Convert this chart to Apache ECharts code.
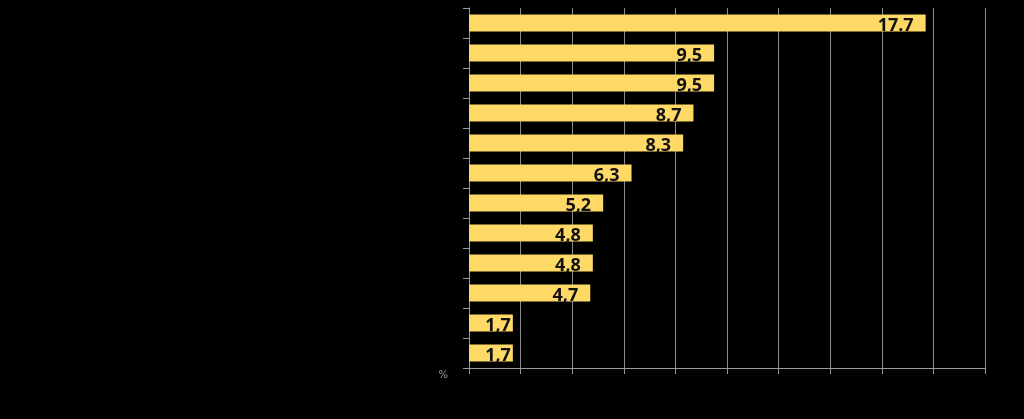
<!DOCTYPE html>
<html>
<head>
<meta charset="utf-8">
<script src="https://cdn.jsdelivr.net/npm/echarts@6/dist/echarts.min.js"></script>
<style>
  html, body { margin: 0; padding: 0; background: #000; }
  #chart { width: 1024px; height: 419px; }
</style>
</head>
<body>
<div id="chart"></div>
<script>
// categories (their labels are black on black in the original)
var categories = ['1', '2', '3', '4', '5', '6', '7', '8', '9', '10', '11', '12'];
var values = [17.7, 9.5, 9.5, 8.7, 8.3, 6.3, 5.2, 4.8, 4.8, 4.7, 1.7, 1.7];
var valueLabels = ['17.7', '9,5', '9,5', '8,7', '8,3', '6,3', '5,2', '4,8', '4,8', '4,7', '1,7', '1,7'];
var xTicks = ['0', '2', '4', '6', '8', '10', '12', '14', '16', '18', '20'];

var chart = echarts.init(document.getElementById('chart'));

// short bars: label is pushed to the bar end, like in the original
var barData = values.map(function (v) {
  return v < 3 ? { value: v, label: { distance: 2 } } : v;
});

var option = {
  backgroundColor: '#000',
  animation: false,
  grid: {
    left: 469,
    right: 39,
    top: 8,
    bottom: 51,
    containLabel: false
  },
  xAxis: {
    type: 'value',
    min: 0,
    max: 20,
    interval: 2,
    name: '%',
    nameLocation: 'start',
    nameGap: 21,
    nameTextStyle: {
      color: '#9a9a9a',
      fontSize: 10,
      fontFamily: 'DejaVu Sans',
      verticalAlign: 'top',
      padding: [2, 0, 0, 0]
    },
    axisLine: { show: true, lineStyle: { color: '#9a9a9a', width: 1 } },
    axisTick: { show: true, length: 6, lineStyle: { color: '#9a9a9a' } },
    axisLabel: {
      color: '#000',
      fontSize: 9,
      formatter: function (v) { return xTicks[Math.round(v / 2)]; }
    },
    splitLine: { show: true, lineStyle: { color: '#8c8c8c', width: 1 } }
  },
  yAxis: {
    type: 'category',
    inverse: true,
    data: categories,
    axisLine: { show: true, lineStyle: { color: '#9a9a9a', width: 1 } },
    axisTick: { show: true, length: 6, lineStyle: { color: '#9a9a9a' } },
    axisLabel: { color: '#000', fontSize: 10 },
    splitLine: { show: false }
  },
  series: [
    {
      type: 'bar',
      data: barData,
      barWidth: 17,
      itemStyle: { color: '#FFD966' },
      label: {
        show: true,
        position: 'insideRight',
        distance: 12,
        offset: [0, 3],
        color: '#111',
        fontSize: 18,
        fontWeight: 'bold',
        fontFamily: 'Open Sans',
        formatter: function (p) { return valueLabels[p.dataIndex]; }
      }
    }
  ]
};

chart.setOption(option);
</script>
</body>
</html>
